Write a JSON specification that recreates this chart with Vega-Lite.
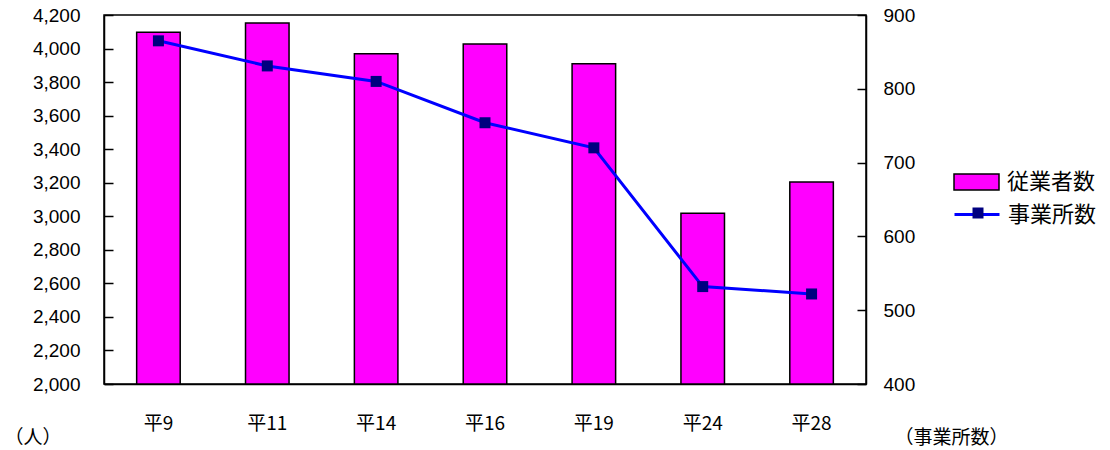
{
  "$schema": "https://vega.github.io/schema/vega-lite/v6.json",
  "autosize": {"type": "none"},
  "width": 762,
  "height": 369,
  "padding": {"left": 104, "top": 15, "right": 244, "bottom": 66},
  "background": "white",
  "config": {
    "view": {"stroke": "black", "strokeWidth": 1.5},
    "font": "Liberation Sans",
    "axis": {"grid": false, "domainColor": "black", "domainWidth": 1.5, "tickColor": "black", "labelColor": "black", "titleColor": "black", "titleFontWeight": "normal"}
  },
  "data": {
    "values": [
      {"year": "平9", "employees": 4097, "establishments": 865},
      {"year": "平11", "employees": 4152, "establishments": 831},
      {"year": "平14", "employees": 3969, "establishments": 810},
      {"year": "平16", "employees": 4027, "establishments": 754},
      {"year": "平19", "employees": 3910, "establishments": 720},
      {"year": "平24", "employees": 3018, "establishments": 532},
      {"year": "平28", "employees": 3204, "establishments": 522}
    ]
  },
  "encoding": {
    "x": {
      "field": "year", "type": "nominal", "sort": null,
      "scale": {"paddingInner": 0.6, "paddingOuter": 0.3},
      "axis": {"title": null, "labelAngle": 0, "labelFont": "Noto Sans CJK JP", "labelFontSize": 19, "ticks": false, "labelPadding": 39, "labelBaseline": "middle"}
    }
  },
  "layer": [
    {
      "mark": {"type": "bar", "stroke": "black", "strokeWidth": 1.5},
      "encoding": {
        "y": {
          "field": "employees", "type": "quantitative",
          "scale": {"domain": [2000, 4200], "nice": false, "zero": false},
          "axis": {
            "orient": "left", "values": [2000, 2200, 2400, 2600, 2800, 3000, 3200, 3400, 3600, 3800, 4000, 4200],
            "format": ",.0f", "tickSize": -9, "tickWidth": 1.5, "labelPadding": 33, "labelFontSize": 19,
            "title": "（人）", "titleAngle": 0, "titleAlign": "left", "titleBaseline": "middle",
            "titleX": -100, "titleY": 422, "titleFont": "Noto Sans CJK JP", "titleFontSize": 19
          }
        },
        "y2": {"datum": 2000},
        "fill": {
          "datum": "従業者数", "type": "nominal",
          "scale": {"range": ["#FF00FF"]},
          "legend": {
            "orient": "none", "legendX": 849, "legendY": 143.5, "title": null, "padding": 0,
            "symbolType": "M-1,-0.356H1V0.356H-1Z", "symbolSize": 2025,
            "symbolStrokeColor": "black", "symbolStrokeWidth": 1.5,
            "labelFont": "Noto Sans CJK JP", "labelFontSize": 22, "labelOffset": 7, "labelColor": "black"
          }
        }
      }
    },
    {
      "layer": [
        {
          "mark": {"type": "line", "strokeWidth": 3},
          "encoding": {
            "y": {
              "field": "establishments", "type": "quantitative",
              "scale": {"domain": [400, 900], "nice": false, "zero": false},
              "axis": {
                "orient": "right", "values": [400, 500, 600, 700, 800, 900], "format": "d",
                "tickSize": -9, "tickWidth": 1.5, "labelPadding": 26, "labelFontSize": 19,
                "title": "（事業所数）", "titleAngle": 0, "titleAlign": "left", "titleBaseline": "middle",
                "titleX": 28, "titleY": 422, "titleFont": "Noto Sans CJK JP", "titleFontSize": 19
              }
            },
            "stroke": {
              "datum": "事業所数", "type": "nominal",
              "scale": {"range": ["#0000FF"]},
              "legend": {
                "orient": "none", "legendX": 849, "legendY": 175.5, "title": null, "padding": 0,
                "symbolType": "stroke", "symbolSize": 2025, "symbolStrokeWidth": 3,
                "labelFont": "Noto Sans CJK JP", "labelFontSize": 22, "labelOffset": 7, "labelColor": "black"
              }
            }
          }
        },
        {
          "mark": {"type": "point", "filled": true, "size": 121, "color": "#000080", "opacity": 1},
          "encoding": {
            "y": {"field": "establishments", "type": "quantitative"},
            "shape": {
              "datum": "事業所数の点", "type": "nominal",
              "scale": {"range": ["square"]},
              "legend": {
                "orient": "none", "legendX": 868.5, "legendY": 192.5, "title": null, "padding": 0,
                "symbolSize": 121, "symbolFillColor": "#000080", "symbolStrokeColor": "#000080", "symbolStrokeWidth": 0, "symbolOpacity": 1,
                "labelFontSize": 1, "labelLimit": 1, "labelColor": "transparent"
              }
            }
          }
        }
      ]
    }
  ],
  "resolve": {"scale": {"y": "independent"}}
}
